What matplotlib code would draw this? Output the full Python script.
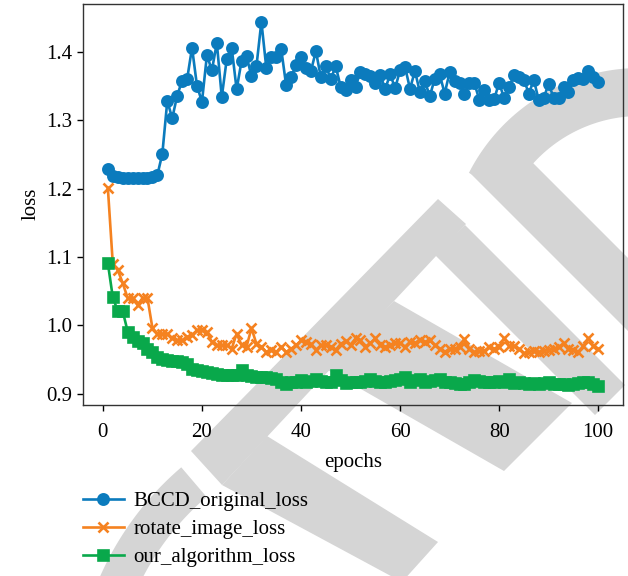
import matplotlib
matplotlib.use("Agg")
import matplotlib.pyplot as plt
from matplotlib.patches import Polygon
import numpy as np

epochs = list(range(1, 101))

bccd_original_loss = [
    1.229, 1.219, 1.217, 1.216, 1.216, 1.215, 1.215, 1.215, 1.216, 1.217,
    1.220, 1.251, 1.328, 1.303, 1.336, 1.358, 1.360, 1.406, 1.350, 1.327,
    1.395, 1.373, 1.413, 1.334, 1.389, 1.406, 1.345, 1.387, 1.394, 1.364,
    1.379, 1.444, 1.376, 1.392, 1.392, 1.404, 1.351, 1.363, 1.381, 1.392,
    1.376, 1.372, 1.401, 1.363, 1.380, 1.360, 1.379, 1.349, 1.344, 1.359,
    1.349, 1.371, 1.368, 1.364, 1.355, 1.366, 1.346, 1.367, 1.347, 1.373,
    1.378, 1.346, 1.372, 1.341, 1.357, 1.335, 1.361, 1.367, 1.339, 1.370,
    1.358, 1.355, 1.339, 1.355, 1.354, 1.330, 1.344, 1.330, 1.331, 1.355,
    1.332, 1.348, 1.366, 1.363, 1.359, 1.339, 1.359, 1.329, 1.333, 1.353,
    1.333, 1.332, 1.348, 1.341, 1.359, 1.362, 1.361, 1.372, 1.363, 1.356,
]

rotate_image_loss = [
    1.201, 1.090, 1.081, 1.062, 1.040, 1.040, 1.030, 1.040, 1.040, 0.996,
    0.988, 0.988, 0.988, 0.981, 0.978, 0.978, 0.983, 0.986, 0.993, 0.993,
    0.990, 0.976, 0.971, 0.971, 0.971, 0.966, 0.988, 0.971, 0.969, 0.996,
    0.973, 0.969, 0.961, 0.964, 0.961, 0.969, 0.961, 0.966, 0.971, 0.978,
    0.976, 0.973, 0.964, 0.971, 0.971, 0.969, 0.964, 0.973, 0.977, 0.971,
    0.981, 0.978, 0.969, 0.974, 0.981, 0.971, 0.969, 0.971, 0.974, 0.974,
    0.969, 0.976, 0.974, 0.979, 0.976, 0.978, 0.971, 0.966, 0.961, 0.966,
    0.966, 0.969, 0.980, 0.966, 0.961, 0.963, 0.963, 0.968, 0.966, 0.969,
    0.981, 0.970, 0.970, 0.966, 0.959, 0.961, 0.963, 0.961, 0.963, 0.964,
    0.966, 0.968, 0.974, 0.966, 0.964, 0.961, 0.970, 0.981, 0.970, 0.966,
]

our_algorithm_loss = [
    1.091, 1.041, 1.021, 1.021, 0.991, 0.983, 0.977, 0.974, 0.966, 0.961,
    0.954, 0.951, 0.949, 0.948, 0.948, 0.947, 0.943, 0.937, 0.935, 0.934,
    0.932, 0.931, 0.929, 0.928, 0.928, 0.927, 0.927, 0.935, 0.927, 0.926,
    0.925, 0.925, 0.924, 0.923, 0.922, 0.918, 0.915, 0.918, 0.917, 0.920,
    0.918, 0.919, 0.921, 0.919, 0.917, 0.918, 0.928, 0.920, 0.916, 0.918,
    0.918, 0.917, 0.919, 0.921, 0.919, 0.917, 0.918, 0.919, 0.920, 0.922,
    0.924, 0.918, 0.920, 0.922, 0.918, 0.919, 0.920, 0.921, 0.918, 0.918,
    0.916, 0.915, 0.915, 0.917, 0.920, 0.919, 0.917, 0.918, 0.918, 0.919,
    0.918, 0.921, 0.916, 0.917, 0.916, 0.915, 0.916, 0.915, 0.916, 0.918,
    0.915, 0.914, 0.915, 0.913, 0.914, 0.916, 0.918, 0.918, 0.915, 0.911,
]

series_labels = ["BCCD_original_loss", "rotate_image_loss", "our_algorithm_loss"]
series_colors = ["#0b7bbd", "#f58220", "#09a84b"]
series_markers = ["o", "x", "s"]

plt.rcParams["font.family"] = ["Liberation Serif", "DejaVu Serif"]
plt.rcParams["font.size"] = 15

W, H = 628, 576
fig = plt.figure(figsize=(W / 100, H / 100), dpi=100)

# light grey stamp behind the plot, drawn in pixel space (y pointing down)
stamp = fig.add_axes([0, 0, 1, 1], zorder=0)
stamp.set_xlim(0, W)
stamp.set_ylim(H, 0)
stamp.axis("off")
grey = "#d5d5d5"


def rot_rect(s0, s1, d0, d1):
    """Rectangle bounded by x+y in [s0, s1] and x-y in [d0, d1]."""
    pts = [(s0, d0), (s0, d1), (s1, d1), (s1, d0)]
    return [((s + d) / 2, (s - d) / 2) for s, d in pts]


def ring(cx, cy, r_in, r_out, a0, a1, n=80):
    t = np.radians(np.linspace(a0, a1, n))
    outer = [(cx + r_out * np.cos(a), cy + r_out * np.sin(a)) for a in t]
    inner = [(cx + r_in * np.cos(a), cy + r_in * np.sin(a)) for a in t[::-1]]
    return outer + inner


shapes = [
    [(191, 451), (438, 199), (466, 224), (222, 485)],
    rot_rect(690, 1010, 180, 240),
    rot_rect(643, 1100, 297, 370),
    ring(640, 260, 144, 192, -153, -55),
    [(394, 301), (572, 403), (504, 471), (326, 369)],
    [(222, 485), (267, 436), (438, 542), (402, 582)],
    ring(380, 700, 267, 306, -170, -130.5),
]
for pts in shapes:
    stamp.add_patch(Polygon(pts, closed=True, facecolor=grey, edgecolor="none"))

ax = fig.add_axes([0.1327, 0.2977, 0.8589, 0.6962], zorder=1)
ax.set_facecolor("none")

for values, label, color, marker in zip(
    [bccd_original_loss, rotate_image_loss, our_algorithm_loss],
    series_labels, series_colors, series_markers,
):
    ax.plot(epochs, values, color=color, marker=marker, label=label,
            linewidth=1.9, markersize=7.4, markeredgewidth=1.9)

ax.set_xticks([0, 20, 40, 60, 80, 100])
ax.set_yticks([0.9, 1.0, 1.1, 1.2, 1.3, 1.4])
ax.set_xlabel("epochs", labelpad=8)
ax.set_ylabel("loss")
ax.tick_params(length=4.3, width=1.0)
ax.tick_params(axis="x", pad=9)
for sp in ax.spines.values():
    sp.set_linewidth(1.0)
    sp.set_color("#333333")

handles, labels = ax.get_legend_handles_labels()
leg = fig.legend(handles, labels, loc="upper left", bbox_to_anchor=(0.115, 0.165),
                 frameon=False, handlelength=2.0, labelspacing=0.4, borderpad=0.0,
                 handletextpad=0.45)
leg.set_zorder(2)

fig.savefig("out.png", dpi=100)
